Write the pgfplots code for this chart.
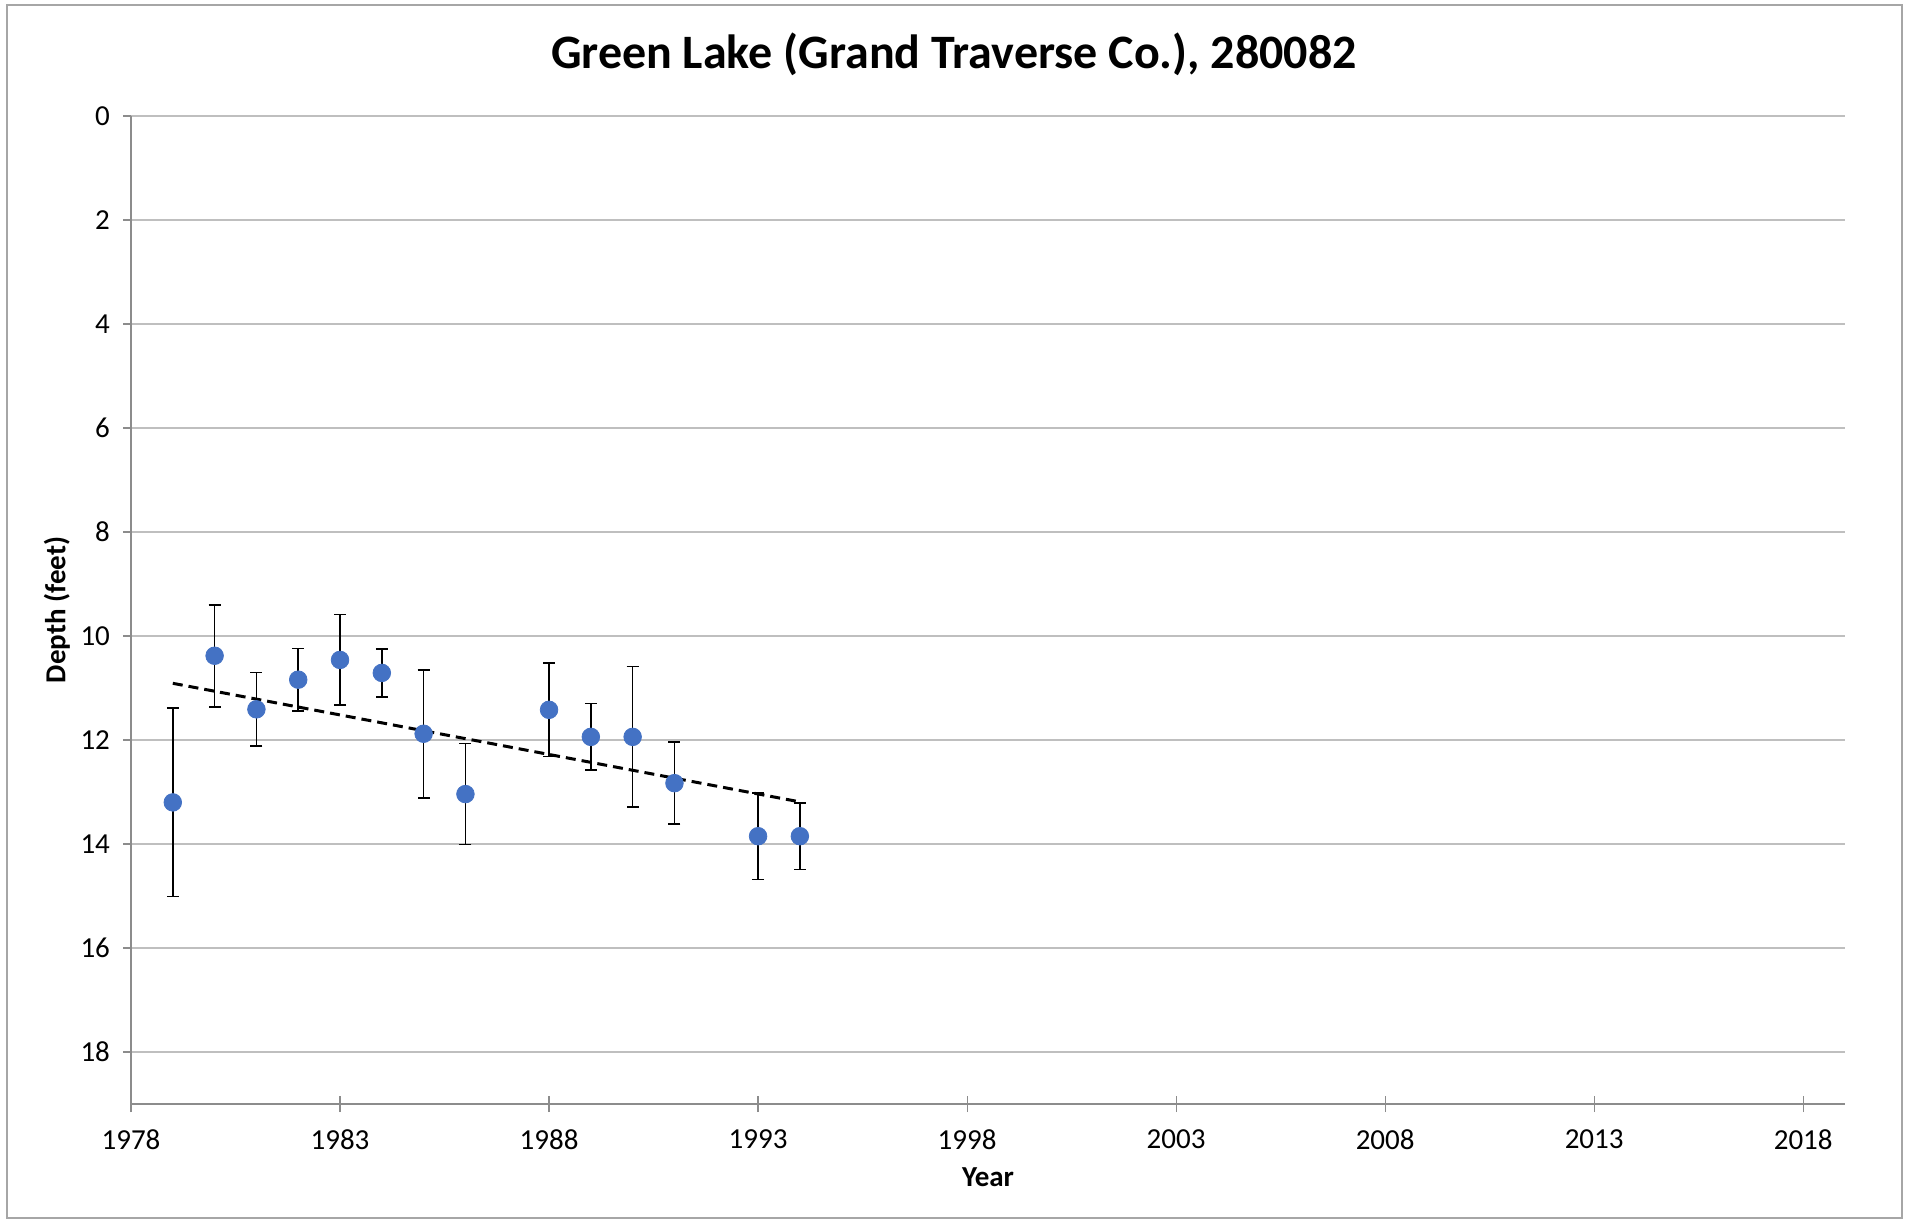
\documentclass[border=0pt]{standalone}
\usepackage{fontspec}
\setmainfont{Carlito}
\usepackage{pgfplots}
\usepackage{pgfplotstable}
\pgfplotsset{compat=1.18}

\definecolor{ptblue}{HTML}{4472C4}
\definecolor{gridgray}{HTML}{BFBFBF}
\definecolor{axgray}{HTML}{8C8C8C}
\definecolor{framegray}{HTML}{A6A6A6}

% year, mean depth, half width of the bar
\pgfplotstableread{
year depth err
1979 13.20 1.81
1980 10.38 0.98
1981 11.41 0.71
1982 10.84 0.60
1983 10.46 0.87
1984 10.71 0.46
1985 11.88 1.23
1986 13.04 0.97
1988 11.42 0.90
1989 11.94 0.64
1990 11.94 1.35
1991 12.83 0.79
1993 13.85 0.83
1994 13.85 0.64
}\lakedata

\begin{document}
\begin{tikzpicture}
\begin{axis}[
    scale only axis,
    width=857pt, height=494pt,
    xmin=1978, xmax=2019,
    ymin=0, ymax=19,
    y dir=reverse,
    xtick={1978,1983,...,2018},
    ytick={0,2,...,18},
    axis x line=bottom,
    axis y line=left,
    axis line style={-, draw=axgray, line width=0.6pt},
    tick style={draw=axgray, line width=0.6pt},
    major tick length=4pt,
    ytick align=outside,
    xtick align=center,
    xtick style={/pgfplots/major tick length=8pt},
    ymajorgrids,
    grid style={draw=gridgray, line width=1.1pt},
    /pgf/number format/assume math mode=true,
    /pgf/number format/1000 sep={},
    ticklabel style={font=\fontsize{14.5}{17}\selectfont},
    xticklabel style={yshift=-7.5pt},
    yticklabel style={xshift=-3pt},
    title={Green Lake (Grand Traverse Co.), 280082},
    title style={font=\bfseries\fontsize{24}{28}\selectfont,
        at={(0.5,1)}, anchor=center, yshift=25pt, xshift=-17pt},
    xlabel={Year},
    xlabel style={font=\bfseries\fontsize{14.5}{17}\selectfont,
        at={(axis description cs:0.5,-0.074)}, anchor=center},
    ylabel={Depth (feet)},
    ylabel style={font=\bfseries\fontsize{14.5}{17}\selectfont,
        at={(axis description cs:-0.0432,0.5)}, anchor=center},
    clip=false,
]
\addplot[black, line width=1.5pt, dash pattern=on 5pt off 3pt]
    coordinates {(1979,10.91) (1994,13.19)};
\addplot[only marks, mark=*, mark size=4.4pt,
    mark options={fill=ptblue, draw=ptblue},
    error bars/.cd, y dir=both, y explicit,
    error bar style={black, line width=0.8pt},
    error mark options={black, rotate=90, mark size=3pt, line width=0.8pt}]
    table[x=year, y=depth, y error=err] {\lakedata};
\coordinate (tl) at (axis cs:1978,0);
\coordinate (br) at (axis cs:2019,19);
\end{axis}
\draw[framegray, line width=0.7pt]
    ([shift={(-62pt,55.5pt)}]tl) rectangle ([shift={(28.5pt,-57pt)}]br);
\path ([shift={(-65.5pt,58pt)}]tl) rectangle ([shift={(30.5pt,-59.5pt)}]br);
\end{tikzpicture}
\end{document}
